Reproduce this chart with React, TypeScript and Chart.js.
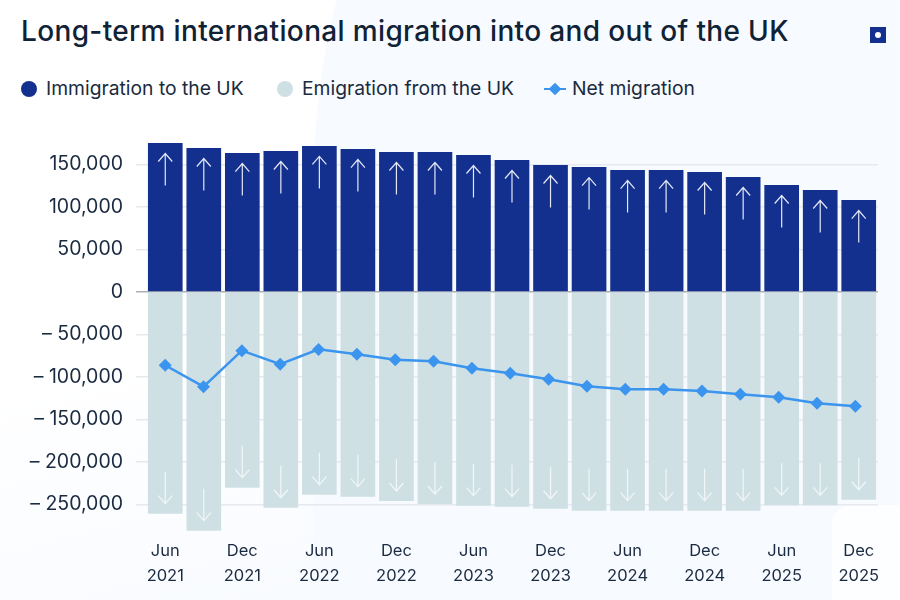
import { useEffect, useRef } from "react";
import { Chart, registerables } from "chart.js";
Chart.register(...registerables);

const quarters = [
  "Jun 2021", "Sep 2021", "Dec 2021", "Mar 2022", "Jun 2022", "Sep 2022", "Dec 2022",
  "Mar 2023", "Jun 2023", "Sep 2023", "Dec 2023", "Mar 2024", "Jun 2024", "Sep 2024",
  "Dec 2024", "Mar 2025", "Jun 2025", "Sep 2025", "Dec 2025",
];
const immigration = [
  175300, 169400, 163500, 165900, 171800, 168200, 164700, 164700, 161200, 155300,
  149400, 147000, 143500, 143500, 141200, 135300, 125900, 120000, 108200,
];
const emigration = [
  -260800, -280800, -230200, -253800, -238500, -240800, -245900, -249400, -251400, -252600,
  -255000, -257300, -257300, -257300, -257300, -257300, -251000, -251000, -244400,
];
const netMigration = [
  -86200, -111400, -69000, -85000, -67500, -73300, -79600, -81600, -89800, -95700,
  -102700, -111000, -114500, -114500, -116500, -120400, -123900, -131000, -134500,
];
const yTicks = [-250000, -200000, -150000, -100000, -50000, 0, 50000, 100000, 150000];

const NAVY = "#13308f";
const PALE = "#cfe0e5";
const BLUE = "#3b94ee";
const INK = "#1a2a40";
const FONT = "Inter, sans-serif";

// white arrows inside the bars, pointing away from the zero line
const arrowPlugin = {
  id: "arrows",
  afterDatasetsDraw(chart: Chart) {
    const ctx = chart.ctx;
    const draw = (x: number, tip: number, dir: number, colour: string) => {
      ctx.save();
      ctx.strokeStyle = colour;
      ctx.lineWidth = 1.2;
      ctx.beginPath();
      ctx.moveTo(x, tip + dir * 32);
      ctx.lineTo(x, tip);
      ctx.moveTo(x - 7, tip + dir * 8);
      ctx.lineTo(x, tip);
      ctx.lineTo(x + 7, tip + dir * 8);
      ctx.stroke();
      ctx.restore();
    };
    chart.getDatasetMeta(0).data.forEach((bar) => draw(bar.x, bar.y + 10.5, 1, "#e3e8f4"));
    chart.getDatasetMeta(1).data.forEach((bar) => draw(bar.x, bar.y - 10, -1, "#f1f6f8"));
  },
};

export default function App() {
  const ref = useRef<HTMLCanvasElement | null>(null);

  useEffect(() => {
    if (!ref.current) return;
    const chart = new Chart(ref.current, {
      type: "bar",
      data: {
        labels: quarters,
        datasets: [
          { label: "Immigration to the UK", data: immigration, backgroundColor: NAVY, grouped: false, barPercentage: 0.9, categoryPercentage: 1, order: 2 },
          { label: "Emigration from the UK", data: emigration, backgroundColor: PALE, grouped: false, barPercentage: 0.9, categoryPercentage: 1, order: 2 },
          {
            type: "line",
            label: "Net migration",
            data: netMigration.map((y, x) => ({ x, y })),
            xAxisID: "x2",
            borderColor: BLUE,
            backgroundColor: BLUE,
            borderWidth: 2.5,
            pointStyle: "rectRot",
            pointRadius: 6.5,
            pointBorderWidth: 0,
            tension: 0,
            order: 1,
          },
        ],
      } as any,
      options: {
        responsive: false,
        animation: false,
        layout: { padding: { top: 139, right: 22 } },
        plugins: { legend: { display: false }, title: { display: false }, tooltip: { enabled: false } },
        scales: {
          x: {
            afterFit: (scale: any) => { scale.height = 61.5; },
            grid: { display: false },
            border: { display: false },
            ticks: {
              autoSkip: false,
              maxRotation: 0,
              padding: -8,
              color: INK,
              font: { family: FONT, size: 16.5, lineHeight: 1.52 },
              callback: (_v: any, i: number) => {
                const parts = quarters[i].split(" ");
                return parts[0] === "Jun" || parts[0] === "Dec" ? parts : "";
              },
            },
          },
          x2: { type: "linear", display: false, offset: false, min: -0.5, max: 18.59 },
          y: {
            min: -290000,
            max: 180000,
            afterFit: (scale: any) => { scale.width = 146; },
            afterBuildTicks: (scale: any) => { scale.ticks = yTicks.map((value) => ({ value })); },
            border: { display: false },
            grid: {
              color: (c: any) => (c.tick && c.tick.value === 0 ? "#aab1b9" : "#e6e9ee"),
              lineWidth: 1.5,
              tickLength: 10,
            },
            ticks: {
              padding: 13,
              color: INK,
              font: { family: FONT, size: 19.5 },
              callback: (v: any) => {
                const text = Math.abs(v).toLocaleString("en-GB");
                return v < 0 ? `– ${text}` : text;
              },
            },
          },
        },
      } as any,
      plugins: [arrowPlugin],
    });
    return () => chart.destroy();
  }, []);

  const legendText = { position: "absolute", top: 77, fontSize: 19.3, lineHeight: "23px", color: INK } as const;

  return (
    <div
      style={{
        position: "absolute", left: 0, top: 0, width: 900, height: 600, overflow: "hidden",
        fontFamily: FONT,
        background: "linear-gradient(165deg, #ffffff 45%, #f5f9ff 100%)",
      }}
    >
      <div style={{ position: "absolute", left: 313, top: -120, width: 900, height: 800, borderRadius: "12% 0 0 0 / 40% 0 0 0", background: "#f7faff" }} />
      <div style={{ position: "absolute", left: 832, top: 505, width: 80, height: 110, borderTopLeftRadius: 20, background: "#fdfeff" }} />
      <div style={{ position: "absolute", left: 21, top: 13, fontSize: 28, lineHeight: "36px", letterSpacing: 0.35, fontWeight: 500, color: "#0f2236", whiteSpace: "nowrap" }}>
        Long-term international migration into and out of the UK
      </div>
      <div style={{ position: "absolute", left: 870, top: 27, width: 16, height: 16, background: NAVY }}>
        <div style={{ position: "absolute", left: 5, top: 5, width: 6, height: 6, borderRadius: 3, background: "#fff" }} />
      </div>

      <div style={{ position: "absolute", left: 21, top: 81, width: 16, height: 16, borderRadius: 8, background: NAVY }} />
      <div style={{ ...legendText, left: 46 }}>Immigration to the UK</div>
      <div style={{ position: "absolute", left: 277, top: 81, width: 16, height: 16, borderRadius: 8, background: PALE }} />
      <div style={{ ...legendText, left: 302 }}>Emigration from the UK</div>
      <div style={{ position: "absolute", left: 544, top: 88, width: 22, height: 2, background: BLUE }} />
      <div style={{ position: "absolute", left: 550, top: 84, width: 10, height: 10, background: BLUE, transform: "rotate(45deg) scale(0.9)" }} />
      <div style={{ ...legendText, left: 572 }}>Net migration</div>

      <canvas ref={ref} width={900} height={600} style={{ position: "absolute", left: 0, top: 0, width: 900, height: 600 }} />
    </div>
  );
}
